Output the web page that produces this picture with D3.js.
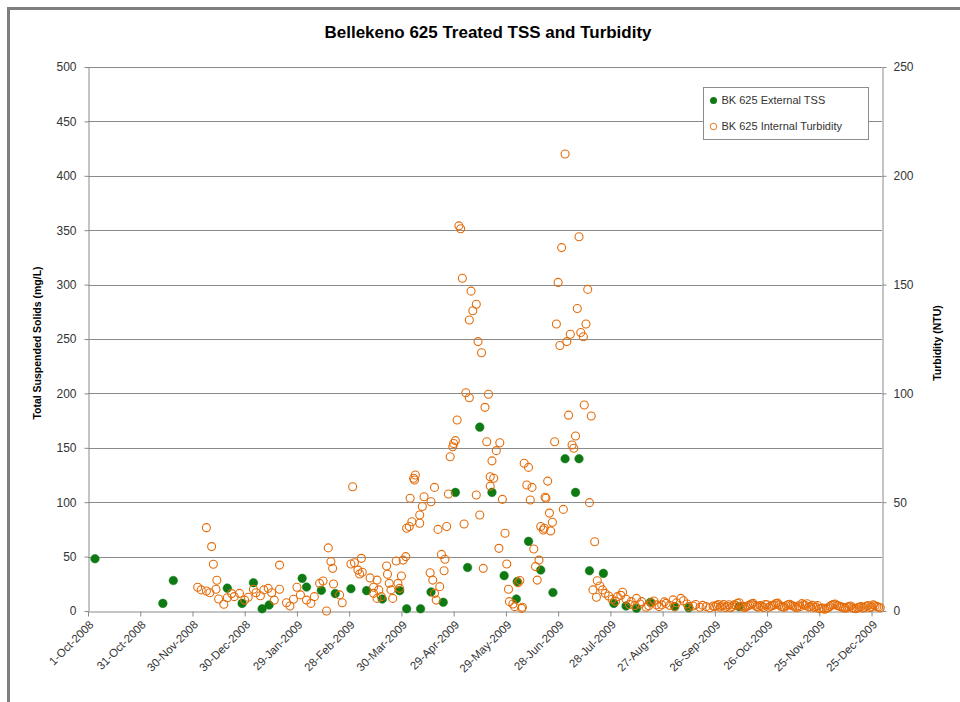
<!DOCTYPE html>
<html>
<head>
<meta charset="utf-8">
<script src="https://cdn.jsdelivr.net/npm/d3@7"></script>
<style>
  html, body { margin: 0; padding: 0; background: #ffffff; }
  svg { display: block; }
  text { font-family: "Liberation Sans", Arial, sans-serif; }
</style>
</head>
<body>
<svg id="chart" width="960" height="702"></svg>
<script>
// ---------------- DATA ----------------
const chartTitle = "Bellekeno 625 Treated TSS and Turbidity";
const leftAxisTitle = "Total Suspended Solids  (mg/L)";
const rightAxisTitle = "Turbidity (NTU)";
const seriesNames = ["BK 625 External TSS", "BK 625 Internal Turbidity"];

const startDate = "2008-10-01";
const endDate = "2009-12-31";

const xTickLabels = ["1-Oct-2008","31-Oct-2008","30-Nov-2008","30-Dec-2008","29-Jan-2009","28-Feb-2009",
  "30-Mar-2009","29-Apr-2009","29-May-2009","28-Jun-2009","28-Jul-2009","27-Aug-2009",
  "26-Sep-2009","26-Oct-2009","25-Nov-2009","25-Dec-2009"];
const xTickDays = [0,30,60,90,120,150,180,210,240,270,300,330,360,390,420,450];
const leftTicks = [0,50,100,150,200,250,300,350,400,450,500];
const rightTicks = [0,50,100,150,200,250];

// External TSS (mg/L): day offset from 1-Oct-2008, value
const tssDays = [4,43,49,80,88.5,95,100,104,123,125.5,134,142,151,160,169,179,183,191,197,204,
  211,218,225,232,239,246,246.5,253,260,267,274,280,282,288,296,302,309,315,323,337,345,374];
const tssValues = [48,7,28,21,7,26,2,5.5,30,22,19,16,20.5,18.7,11,18.7,2,2,17.5,8,
  109,40,169,109,32.5,11,27,64,37.7,17,140,109,140,37,34.6,7,4.6,2.5,8,4,3,4];

// Internal Turbidity (NTU): day offset from 1-Oct-2008, value
const turbDays = [68,71,72,74,63,65,68,70,73.5,75,78,80,82.5,84,87,90,92,95,96.5,99,
  101,103.5,105.5,107,110,110,114,116,118,120,122,125.5,128,130,133,135,137,138,139.5,140.5,
  141,144.5,146,151,152,153,155,156,157,157.5,162,164,164,166,166,167,168.5,171.5,172,173,
  174,175,177,178,179,180,181,182.5,183,184.5,186,185,187,188,187.5,190.5,190.5,192,193,197,
  199,196.5,198,199,200,202,203,205,204.5,201,206,207,208,209.5,210,211,212,213,214,215,
  216,217,219,219,220,221,223,223,224,225,226,227,228,229,230,231,231,232,233,234.5,
  236.5,238,239.5,236,240.5,241.5,242,244,245,249,247,248,250.5,253,252,255,254,258,259,260,
  262,263,265,269,270,271,272,274,275,276,277,278,279,280,281,282,283,284.5,285,286,
  287,289,268,264,262.5,288,273,266.7,261.5,265.7,291,256,257,249.5,290,292.5,294,295.5,292,297,
  299,301,304,307,309,312,315,318,320.5,323.5,326.5,329.5,332,336,338,340.5,342,345,347.5,351.5,
  355,359,361,363,365,367,369,371,373,375,377,379,381,383,385,387,389,391,393,395,
  397,399,401,403,405,407,409,411,413,415,417,419,421,423,425,427,429,431,433,435,
  437,439,441,443,445,447,449,451,453,455,
  303,306,311,314,317,322,325,328,331,334,337,344,349,353,357,
  360,362,364,366,368,370,372,374,376,378,380,382,384,386,388,390,392,394,396,398,
  400,402,404,406,408,410,412,414,416,418,420,422,424,426,428,430,432,434,436,438,
  440,442,444,446,448,450,452,454];
const turbValues = [38.3,29.6,21.5,14.1,10.9,9.7,9.2,8.4,10,5.5,3.1,6.1,8,6.6,8.1,5,6.3,10,8.4,7,
  9.7,10.4,8.4,5,10,21.1,3.8,2.3,5.4,10.9,7.4,5,3.5,6.6,12.7,13.8,0,29,22.7,19.6,
  12.4,7.4,3.8,21.6,57.1,22.2,18.8,17,24.2,17.8,15.2,10.9,8.1,5.8,14.2,9.7,6.6,20.7,16.9,12.7,
  9.7,5.8,23,12.7,10.4,16.1,23.4,25,38,38.8,41,51.8,61,62.5,60.2,44.1,40.3,48,52.5,50.2,
  56.8,17.6,14.2,8.1,5,11.2,26,23.8,18.5,37.5,38.8,53.8,70.9,75.5,77,78.3,87.8,177,175.7,152.9,
  40,100.3,98,133.7,147,138,141,53.3,123.8,44.1,118.7,19.6,93.6,77.8,99.6,61.7,57.4,69,61,73.7,
  77.3,51.3,35.7,28.8,21.6,10,4.3,3.2,2,1.2,13,14,67.9,66,57.9,56.8,51,14.2,23.4,38.8,
  38,51.8,45,131.9,151,122,167,210,123.8,90,127.2,76.3,74.8,80.4,139,172,128,126,94.7,131.9,
  147.8,89.6,77.8,59.7,52.3,49.8,46.7,40.8,37.2,36.8,31.8,28.5,20.4,1.7,9.7,13.9,11.5,9.7,6.3,8.1,
  6.9,5.4,6.6,8.6,5.4,4.3,5.8,4.3,1.7,3.8,2.8,2.8,3.5,5.1,3.8,5.8,4.7,2,2.3,1.7,
  2,2.3,2.5,1.8,3.0,2.2,1.5,2.8,3.5,2.0,1.6,2.4,3.2,2.6,1.8,2.2,3.0,1.7,2.5,3.4,
  2.8,1.9,2.4,3.1,2.3,1.5,2.0,2.8,3.3,2.1,1.6,2.5,1.2,0.8,1.5,2.6,3.2,2.4,1.8,1.3,
  2.0,1.5,1.0,1.8,1.4,2.2,1.6,2.8,2.0,1.5,
  4.5,7.2,3.0,2.5,3.2,2.4,4.6,2.0,4.2,2.6,2.1,3.2,3.0,2.6,1.5,
  2.0,3.0,2.4,1.6,2.9,2.1,2.6,3.8,2.2,1.9,2.7,3.5,2.0,2.5,1.6,2.9,2.2,2.7,3.6,2.1,
  1.7,2.9,2.6,1.9,2.4,3.4,2.5,1.8,2.6,1.9,1.0,1.4,1.1,2.1,3.0,2.6,2.0,1.5,1.7,2.3,
  1.2,1.5,2.0,1.6,2.5,1.9,2.4,1.8];

// ---------------- DRAW ----------------
const svg = d3.select("#chart");
const W = 960, H = 702;
const plot = { left: 88, right: 882, top: 67, bottom: 611 };

const orange = "#E46C0A";
const green = "#0F7A14";
const gridColor = "#8a8a8a";
const textColor = "#333333";

const t0 = new Date(startDate + "T00:00:00Z");
const t1 = new Date(endDate + "T00:00:00Z");
const dayToDate = d => new Date(t0.getTime() + d * 86400000);

const x = d3.scaleUtc().domain([t0, t1]).range([plot.left, plot.right]);
const yL = d3.scaleLinear().domain([0, 500]).range([plot.bottom, plot.top]);
const yR = d3.scaleLinear().domain([0, 250]).range([plot.bottom, plot.top]);

// outer frame
svg.append("rect").attr("x", 0).attr("y", 0).attr("width", W).attr("height", H).attr("fill", "#ffffff");
svg.append("rect").attr("x", 8.5).attr("y", 8.5).attr("width", 1200).attr("height", 1200)
  .attr("fill", "none").attr("stroke", "#7f7f7f").attr("stroke-width", 3);

// gridlines
svg.append("g").selectAll("line").data(leftTicks.filter(v => v > 0)).join("line")
  .attr("x1", plot.left).attr("x2", plot.right)
  .attr("y1", d => Math.round(yL(d)) + 0.5).attr("y2", d => Math.round(yL(d)) + 0.5)
  .attr("stroke", gridColor).attr("stroke-width", 1);

function styleAxis(g) {
  g.selectAll(".domain").attr("stroke", gridColor);
  g.selectAll(".tick line").attr("stroke", gridColor);
  g.selectAll("text").attr("fill", textColor).style("font-size", "12px")
    .style("font-family", "'Liberation Sans', Arial, sans-serif");
}

// left axis
const gL = svg.append("g").attr("transform", `translate(${plot.left + 0.5},0)`)
  .call(d3.axisLeft(yL).tickValues(leftTicks).tickSize(4).tickSizeOuter(0).tickPadding(8));
styleAxis(gL);

// right axis
const gR = svg.append("g").attr("transform", `translate(${plot.right + 0.5},0)`)
  .call(d3.axisRight(yR).tickValues(rightTicks).tickSize(4).tickSizeOuter(0).tickPadding(7));
styleAxis(gR);

// bottom axis
const tickDates = xTickDays.map(dayToDate);
const gB = svg.append("g").attr("transform", `translate(0,${plot.bottom + 0.5})`)
  .call(d3.axisBottom(x).tickValues(tickDates).tickSize(5).tickSizeOuter(0)
    .tickFormat((d, i) => xTickLabels[i]));
styleAxis(gB);
gB.selectAll("text")
  .attr("x", 0).attr("y", 0).attr("dy", "0.35em")
  .attr("text-anchor", "end")
  .attr("transform", "translate(3,11) rotate(-45)")
  .style("font-size", "11.5px");

// TSS points (primary axis) drawn first
const tss = tssDays.map((d, i) => ({ date: dayToDate(d), v: tssValues[i] }));
svg.append("g").selectAll("circle").data(tss).join("circle")
  .attr("cx", d => x(d.date)).attr("cy", d => yL(d.v)).attr("r", 4.3)
  .attr("fill", green).attr("stroke", green).attr("stroke-width", 0.5);

// turbidity points (secondary axis) drawn on top
const turb = turbDays.map((d, i) => ({ date: dayToDate(d), v: turbValues[i] }));
svg.append("g").selectAll("circle").data(turb).join("circle")
  .attr("cx", d => x(d.date)).attr("cy", d => yR(d.v)).attr("r", 4)
  .attr("fill", "none").attr("stroke", orange).attr("stroke-width", 1.1);

// title
svg.append("text").attr("x", 488).attr("y", 38).attr("text-anchor", "middle")
  .attr("fill", "#000").style("font-weight", "bold").style("font-size", "16.5px")
  .attr("textLength", 327).attr("lengthAdjust", "spacingAndGlyphs")
  .text(chartTitle);

// axis titles
svg.append("text").attr("transform", "translate(41,343) rotate(-90)").attr("text-anchor", "middle")
  .attr("fill", "#000").style("font-weight", "bold").style("font-size", "10.5px")
  .text(leftAxisTitle);
svg.append("text").attr("transform", "translate(941,343) rotate(-90)").attr("text-anchor", "middle")
  .attr("fill", "#000").style("font-weight", "bold").style("font-size", "10.5px")
  .text(rightAxisTitle);

// legend
const lg = svg.append("g").attr("transform", "translate(703.5,87.5)");
lg.append("rect").attr("width", 165).attr("height", 52).attr("fill", "#fff")
  .attr("stroke", "#8c8c8c").attr("stroke-width", 1);
lg.append("circle").attr("cx", 10).attr("cy", 13).attr("r", 3.5).attr("fill", green);
lg.append("text").attr("x", 18).attr("y", 13).attr("dy", "0.35em").attr("fill", textColor)
  .style("font-size", "11px").text(seriesNames[0]);
lg.append("circle").attr("cx", 10).attr("cy", 39).attr("r", 3.3).attr("fill", "none")
  .attr("stroke", orange).attr("stroke-width", 0.9);
lg.append("text").attr("x", 18).attr("y", 39).attr("dy", "0.35em").attr("fill", textColor)
  .style("font-size", "11px").text(seriesNames[1]);
</script>
</body>
</html>
